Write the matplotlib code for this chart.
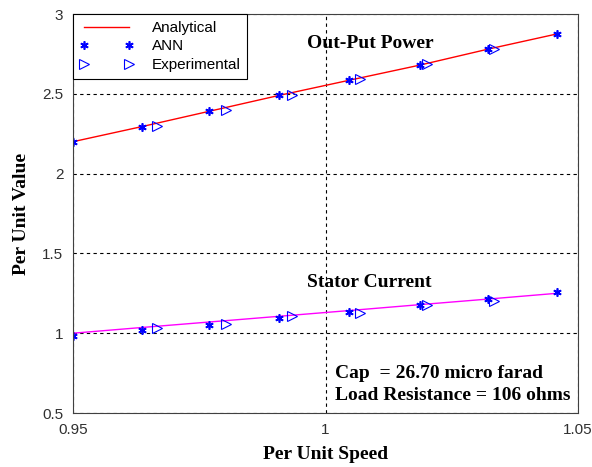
import numpy as np
import matplotlib.pyplot as plt

# valeurs
speed_ann = [0.95, 0.9637, 0.9769, 0.9908, 1.0047, 1.0187, 1.0322, 1.0458]
power_analytical = [2.20, 2.295, 2.39, 2.49, 2.585, 2.68, 2.78, 2.875]
current_analytical = [1.00, 1.036, 1.07, 1.106, 1.142, 1.179, 1.214, 1.25]
power_ann = [2.20, 2.29, 2.39, 2.49, 2.585, 2.68, 2.78, 2.875]
current_ann = [0.982, 1.02, 1.053, 1.097, 1.135, 1.177, 1.214, 1.256]

speed_exp = [0.9666, 0.9803, 0.9934, 1.0068, 1.0201, 1.0334]
power_exp = [2.30, 2.40, 2.495, 2.59, 2.685, 2.78]
current_exp = [1.035, 1.06, 1.108, 1.128, 1.175, 1.20]

serif = ['Liberation Serif', 'DejaVu Serif']
sans = ['Liberation Sans', 'DejaVu Sans']
star = (6, 2, 0)

fig = plt.figure(figsize=(5.92, 4.67), dpi=100)
ax = fig.add_axes([0.1233, 0.1156, 0.8531, 0.8544])

ax.plot(speed_ann, power_analytical, color='red', lw=1, label='Analytical')
ax.plot(speed_ann, current_analytical, color='magenta', lw=1)
ax.plot(speed_ann, power_ann, ls='none', marker=star, color='blue', ms=6, mew=1.2, label='ANN')
ax.plot(speed_ann, current_ann, ls='none', marker=star, color='blue', ms=6, mew=1.2)
ax.plot(speed_exp, power_exp, ls='none', marker='>', mfc='none', mec='blue', ms=7, mew=0.8, label='Experimental')
ax.plot(speed_exp, current_exp, ls='none', marker='>', mfc='none', mec='blue', ms=7, mew=0.8)

ax.set_xlim(0.95, 1.05)
ax.set_ylim(0.5, 3)
ax.set_xticks([0.95, 1, 1.05])
ax.set_xticklabels(['0.95', '1', '1.05'])
ax.set_yticks([0.5, 1, 1.5, 2, 2.5, 3])
ax.set_yticklabels(['0.5', '1', '1.5', '2', '2.5', '3'])
ax.grid(True, ls=(0, (3, 3)), color='black', lw=0.8)
ax.tick_params(direction='in', length=0, labelsize=11, colors='#303030', pad=7)
for lab in ax.get_xticklabels() + ax.get_yticklabels():
    lab.set_family(sans)
for s in ax.spines.values():
    s.set_color('#404040')

ax.set_xlabel('Per Unit Speed', family=serif, weight='bold', fontsize=14, labelpad=7)
ax.set_ylabel('Per Unit Value', family=serif, weight='bold', fontsize=14, labelpad=9)

ax.text(0.9963, 2.818, 'Out-Put Power', family=serif, weight='bold', fontsize=14, va='center')
ax.text(0.9963, 1.315, 'Stator Current', family=serif, weight='bold', fontsize=14, va='center')
ax.text(1.0019, 0.75, 'Cap  = 26.70 micro farad', family=serif, weight='bold', fontsize=14, va='center')
ax.text(1.0019, 0.607, 'Load Resistance = 106 ohms', family=serif, weight='bold', fontsize=14, va='center')

leg = ax.legend(loc='upper left', numpoints=2, fancybox=False, framealpha=1,
                edgecolor='black', borderaxespad=0, handlelength=3.5,
                prop={'family': sans, 'size': 11}, borderpad=0.45, labelspacing=0.3,
                handletextpad=1.2)
leg.get_frame().set_linewidth(0.8)

fig.savefig('out.png', dpi=100)
